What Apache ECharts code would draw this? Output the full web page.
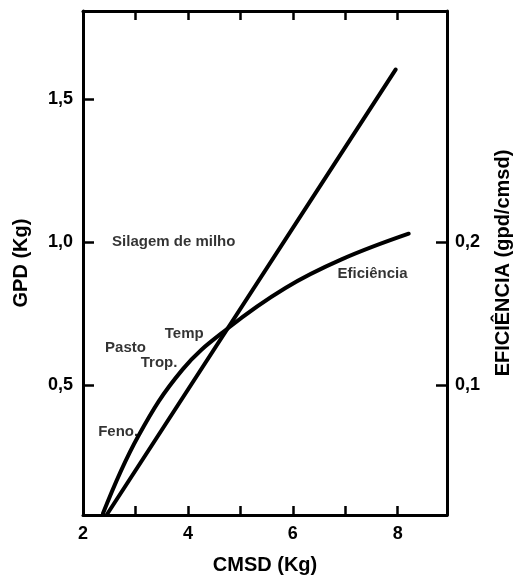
<!DOCTYPE html>
<html>
<head>
<meta charset="utf-8">
<script src="https://cdn.jsdelivr.net/npm/echarts@6/dist/echarts.min.js"></script>
<style>
  html, body { margin: 0; padding: 0; background: #fff; }
  #chart { width: 521px; height: 580px; }
</style>
</head>
<body>
<div id="chart"></div>
<script>
// CMSD (kg) axis range and tick values
const xMin = 2, xMax = 8.94;
const xTicks = [3, 4, 5, 6, 7, 8];
const xLabels = [2, 4, 6, 8];

// GPD (kg), left axis
const gpdMin = 0.045, gpdMax = 1.81;
const gpdTicks = [0.5, 1.0, 1.5];

// Efficiency (gpd/cmsd), right axis
const efMin = 0.009, efMax = 0.362;
const efTicks = [0.1, 0.2];

// GPD straight line (CMSD, GPD)
const gpdX = [2.45, 7.96];
const gpdY = [0.045, 1.605];

// Efficiency curve (CMSD, gpd/cmsd)
const efX = [2.38, 3.05, 3.9, 4.77, 5.86, 6.93, 8.21];
const efY = [0.010, 0.064, 0.111, 0.140, 0.168, 0.188, 0.206];

// Text notes placed in CMSD / GPD units
const noteText = ['Silagem de milho', 'Temp', 'Pasto', 'Trop.', 'Feno.', 'Eficiência'];
const noteX = [3.73, 3.93, 2.81, 3.45, 2.67, 7.52];
const noteY = [1.0, 0.681, 0.629, 0.577, 0.335, 0.889];

const fmt = v => v.toFixed(1).replace('.', ',');
const FONT = 'Liberation Sans, Arial, sans-serif';

const chart = echarts.init(document.getElementById('chart'), null, { renderer: 'canvas' });

const lineStyle = { color: '#000', width: 3 };

chart.setOption({
  animation: false,
  backgroundColor: '#fff',
  grid: { left: 83, right: 67, top: 11, bottom: 58, containLabel: false },
  xAxis: [
    {
      type: 'value', min: xMin, max: xMax, position: 'bottom',
      name: 'CMSD (Kg)', nameLocation: 'middle', nameGap: 40,
      nameTextStyle: { fontFamily: FONT, fontWeight: 'bold', fontSize: 20, color: '#000' },
      axisLine: { show: true, onZero: false, lineStyle: lineStyle },
      axisTick: { show: true, inside: true, length: 9, customValues: xTicks, lineStyle: { color: '#000', width: 2.5 } },
      axisLabel: { customValues: xLabels, formatter: v => String(v), fontFamily: FONT, fontWeight: 'bold', fontSize: 18, color: '#000', margin: 10 },
      splitLine: { show: false }
    },
    {
      type: 'value', min: xMin, max: xMax, position: 'top',
      axisLine: { show: true, onZero: false, lineStyle: lineStyle },
      axisTick: { show: true, inside: true, length: 9, customValues: xTicks, lineStyle: { color: '#000', width: 2.5 } },
      axisLabel: { show: false },
      splitLine: { show: false }
    }
  ],
  yAxis: [
    {
      type: 'value', min: gpdMin, max: gpdMax, position: 'left',
      name: 'GPD (Kg)', nameLocation: 'middle', nameGap: 52, nameRotate: 90,
      nameTextStyle: { fontFamily: FONT, fontWeight: 'bold', fontSize: 20, color: '#000' },
      axisLine: { show: true, onZero: false, lineStyle: lineStyle },
      axisTick: { show: true, inside: true, length: 11, customValues: gpdTicks, lineStyle: { color: '#000', width: 2.5 } },
      axisLabel: { customValues: gpdTicks, formatter: fmt, fontFamily: FONT, fontWeight: 'bold', fontSize: 18, color: '#000', margin: 10 },
      splitLine: { show: false }
    },
    {
      type: 'value', min: efMin, max: efMax, position: 'right',
      name: 'EFICIÊNCIA (gpd/cmsd)', nameLocation: 'middle', nameGap: 46, nameRotate: 90,
      nameTextStyle: { fontFamily: FONT, fontWeight: 'bold', fontSize: 20, color: '#000' },
      axisLine: { show: true, onZero: false, lineStyle: lineStyle },
      axisTick: { show: true, inside: true, length: 11, customValues: efTicks, lineStyle: { color: '#000', width: 2.5 } },
      axisLabel: { customValues: efTicks, formatter: fmt, fontFamily: FONT, fontWeight: 'bold', fontSize: 18, color: '#000', margin: 8 },
      splitLine: { show: false }
    }
  ],
  series: [
    {
      name: 'GPD', type: 'line', xAxisIndex: 0, yAxisIndex: 0,
      data: gpdX.map((x, i) => [x, gpdY[i]]),
      showSymbol: false, symbol: 'none',
      lineStyle: { color: '#000', width: 4, cap: 'round' }
    },
    {
      name: 'Eficiência', type: 'line', xAxisIndex: 0, yAxisIndex: 1,
      data: efX.map((x, i) => [x, efY[i]]),
      smooth: 0.4, showSymbol: false, symbol: 'none',
      lineStyle: { color: '#000', width: 4, cap: 'round' }
    },
    {
      name: 'notas', type: 'scatter', xAxisIndex: 0, yAxisIndex: 0,
      symbolSize: 0, silent: true,
      data: noteText.map((t, i) => ({ name: t, value: [noteX[i], noteY[i]] })),
      label: {
        show: true, position: 'inside', formatter: '{b}',
        fontFamily: FONT, fontWeight: 'bold', fontSize: 15, color: '#000'
      }
    }
  ]
});
</script>
</body>
</html>
